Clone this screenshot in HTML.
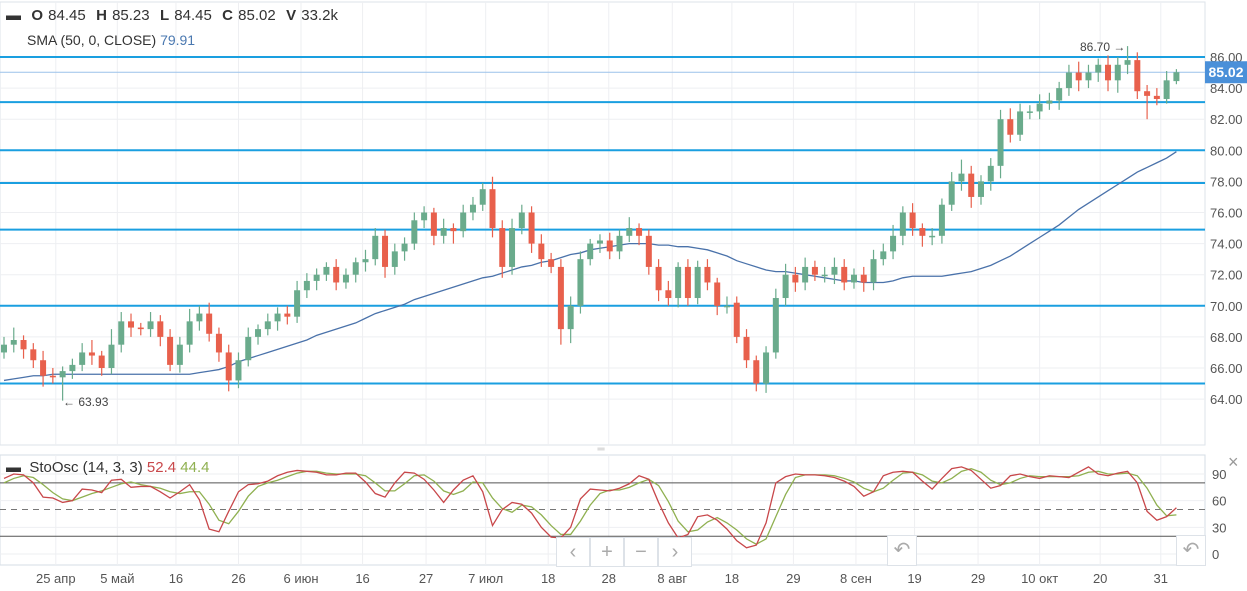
<!DOCTYPE html>
<html><head><meta charset="utf-8">
<style>
body{margin:0;background:#fff;font-family:"Liberation Sans","Noto Sans CJK SC",sans-serif;}
#wrap{position:relative;width:1247px;height:591px;overflow:hidden;background:#fff;}
svg{position:absolute;left:0;top:0;}
.hdr{position:absolute;font-size:15px;color:#333;white-space:nowrap;}
.btn{position:absolute;border:1px solid #dde2e8;background:#fff;color:#aaa;font-size:20px;text-align:center;line-height:28px;}
</style></head>
<body>
<div id="wrap">
<svg id="chart" width="1247" height="591"></svg>
<div class="hdr" style="left:6px;top:7px;word-spacing:1px;"><b>▬</b>&nbsp; <b>O</b> 84.45 &nbsp;<b>H</b> 85.23 &nbsp;<b>L</b> 84.45 &nbsp;<b>C</b> 85.02 &nbsp;<b>V</b> 33.2k</div>
<div class="hdr" style="left:27px;top:32px;font-size:14px;">SMA (50, 0, CLOSE) <span style="color:#4a78b0">79.91</span></div>
<div class="hdr" style="left:6px;top:459px;"><b>▬</b>&nbsp; StoOsc (14, 3, 3) <span style="color:#c8474a">52.4</span> <span style="color:#8fb050">44.4</span></div>
<div class="btn" style="left:556px;top:537px;width:32px;height:28px;">‹</div>
<div class="btn" style="left:590px;top:537px;width:32px;height:28px;">+</div>
<div class="btn" style="left:624px;top:537px;width:32px;height:28px;">−</div>
<div class="btn" style="left:658px;top:537px;width:32px;height:28px;">›</div>
<div class="btn" style="left:887px;top:535px;width:28px;height:29px;">↶</div>
<div class="btn" style="left:1176px;top:535px;width:28px;height:29px;">↶</div>
</div>
<script>
const closes=[67.5,67.8,67.2,66.5,65.5,65.4,65.8,66.2,67.0,66.8,66.0,67.5,69.0,68.6,68.5,69.0,68.0,66.2,67.5,69.0,69.5,68.2,67.0,65.2,66.5,68.0,68.5,69.0,69.5,69.3,71.0,71.6,72.0,72.5,71.5,72.0,72.8,73.0,74.5,72.5,73.5,74.0,75.5,76.0,74.5,75.0,74.8,76.0,76.5,77.5,75.0,72.5,75.0,76.0,74.0,73.0,72.5,68.5,70.0,73.0,74.0,74.2,73.5,74.5,75.0,74.5,72.5,71.0,70.5,72.5,70.5,72.5,71.5,70.0,70.0,68.0,66.5,65.0,67.0,70.5,72.0,71.5,72.5,72.0,72.0,72.5,71.5,72.0,71.5,73.0,73.5,74.5,76.0,75.0,74.5,74.5,76.5,78.0,78.5,77.0,78.0,79.0,82.0,81.0,82.5,82.5,83.0,83.2,84.0,85.0,84.5,85.0,85.5,84.5,85.5,85.8,83.8,83.5,83.3,84.5,85.02];
const opens=[67.0,67.5,67.8,67.2,66.5,65.5,65.4,65.8,66.2,67.0,66.8,66.0,67.5,69.0,68.6,68.5,69.0,68.0,66.2,67.5,69.0,69.5,68.2,67.0,65.2,66.5,68.0,68.5,69.0,69.5,69.3,71.0,71.6,72.0,72.5,71.5,72.0,72.8,73.0,74.5,72.5,73.5,74.0,75.5,76.0,74.5,75.0,74.8,76.0,76.5,77.5,75.0,72.5,75.0,76.0,74.0,73.0,72.5,68.5,70.0,73.0,74.0,74.2,73.5,74.5,75.0,74.5,72.5,71.0,70.5,72.5,70.5,72.5,71.5,70.0,70.2,68.0,66.5,65.0,67.0,70.5,72.0,71.5,72.5,72.0,72.0,72.5,71.5,72.0,71.5,73.0,73.5,74.5,76.0,75.0,74.5,74.5,76.5,78.0,78.5,77.0,78.0,79.0,82.0,81.0,82.5,82.5,83.0,83.2,84.0,85.0,84.5,85.0,85.5,84.5,85.5,85.8,83.8,83.5,83.3,84.45];
const wickHi=[0.5,0.8,0.3,0.4,0.6,0.5,0.3,0.4,0.6,0.8,0.3,1.0,0.6,0.5,0.3,0.6,0.4,0.5,0.5,0.8,0.5,0.7,0.4,0.5,0.5,0.6,0.3,0.5,0.4,0.5,0.6,0.5,0.4,0.3,0.5,0.4,0.3,0.6,0.5,0.4,0.5,0.4,0.5,0.4,0.3,0.6,0.3,0.5,0.5,0.4,0.8,0.5,0.6,0.5,0.4,0.6,0.4,0.5,0.6,0.5,0.3,0.4,0.5,0.4,0.7,0.3,0.4,0.5,0.6,0.3,0.5,0.4,0.5,0.3,0.6,0.4,0.5,0.3,0.4,0.6,0.7,0.5,0.6,0.4,0.5,0.6,0.5,0.4,0.5,0.6,0.5,0.7,0.4,0.6,0.3,0.5,0.4,0.6,0.9,0.5,0.4,0.5,0.6,0.7,0.5,0.4,0.6,0.5,0.4,0.5,0.7,0.5,0.4,0.6,0.5,0.9,0.5,0.4,0.5,0.6,0.2];
const wickLo=[0.4,0.5,0.6,0.5,0.7,0.4,1.5,0.5,0.4,0.6,0.5,0.4,0.5,0.6,0.4,0.5,0.6,0.4,0.5,0.5,0.6,0.5,0.6,0.7,0.5,0.4,0.5,0.4,0.6,0.5,0.4,0.5,0.6,0.4,0.5,0.4,0.5,0.6,0.4,0.7,0.5,0.6,0.4,0.5,0.6,0.5,0.8,0.4,0.5,0.4,0.6,0.7,0.5,0.4,0.6,0.5,0.4,1.0,0.9,0.5,0.4,0.6,0.5,0.5,0.4,0.6,0.5,0.7,0.5,0.6,0.5,0.4,0.5,0.6,0.5,0.4,0.5,0.5,0.6,0.4,0.5,0.6,0.5,0.4,0.5,0.6,0.5,0.4,0.6,0.5,0.4,0.5,0.6,0.5,0.7,0.6,0.5,0.4,0.6,0.7,0.5,0.6,0.8,0.5,0.4,0.5,0.5,0.4,0.6,0.5,0.7,0.5,0.6,0.7,0.8,0.6,0.5,1.5,0.4,0.3,0.2];
const sma=[65.2,65.3,65.4,65.5,65.5,65.6,65.6,65.6,65.6,65.6,65.6,65.6,65.6,65.6,65.6,65.6,65.6,65.6,65.6,65.6,65.7,65.8,65.9,66.1,66.4,66.6,66.8,67.0,67.2,67.4,67.6,67.8,68.1,68.3,68.5,68.7,68.9,69.2,69.5,69.7,69.9,70.1,70.4,70.6,70.8,71.0,71.2,71.4,71.6,71.8,71.9,72.1,72.3,72.5,72.6,72.8,72.9,73.1,73.3,73.4,73.6,73.7,73.8,73.9,74.0,74.0,74.0,73.9,73.9,73.8,73.8,73.7,73.6,73.4,73.2,72.9,72.7,72.5,72.3,72.2,72.2,72.1,72.0,71.9,71.8,71.7,71.6,71.6,71.5,71.5,71.5,71.6,71.8,71.9,71.9,71.9,71.9,72.0,72.1,72.2,72.4,72.6,72.9,73.2,73.6,74.0,74.4,74.8,75.2,75.7,76.2,76.6,77.0,77.4,77.8,78.2,78.6,78.9,79.2,79.5,79.91];
const stochK=[85,90,89,80,64,63,58,60,73,72,69,83,84,75,76,76,70,63,70,78,61,28,25,48,70,78,79,82,88,92,94,93,92,89,89,91,91,81,68,64,80,92,91,84,72,58,72,83,88,70,32,50,58,56,46,30,19,18,30,62,73,72,71,74,79,88,84,58,35,18,22,42,44,38,28,15,7,10,35,80,87,90,89,89,88,86,82,76,65,70,88,92,93,92,82,73,85,96,98,94,84,74,77,88,90,87,85,88,87,86,92,98,90,88,91,93,80,48,38,42,52];
const stochD=[80,85,88,86,78,69,62,60,64,68,71,75,79,81,78,76,74,70,68,70,70,56,38,34,48,65,76,80,83,87,91,93,93,91,90,90,90,88,80,71,71,79,88,89,82,71,67,71,81,80,63,51,47,55,53,44,32,22,22,37,55,68,72,72,75,80,84,77,59,37,25,27,36,41,35,27,17,11,17,42,67,86,89,89,89,88,85,81,74,70,74,83,91,92,89,82,80,85,93,96,92,83,78,80,85,88,87,87,87,87,88,92,93,90,90,91,88,74,55,43,44];
const priceTicks=[64,66,68,70,72,74,76,78,80,82,84,86];
const levels=[86,83.1,80,77.9,74.9,70,65];
const stochTicks=[0,30,60,90];
const dateLabels=["25 апр","5 май","16","26","6 июн","16","27","7 июл","18","28","8 авг","18","29","8 сен","19","29","10 окт","20","31"];
const dateIdx=[5.3,11.6,17.6,24.0,30.4,36.7,43.2,49.3,55.7,61.9,68.4,74.5,80.8,87.2,93.2,99.7,106.0,112.2,118.4];
const lastPrice=85.02;

const svg=document.getElementById('chart');
const NS='http://www.w3.org/2000/svg';
function mk(t,a,p){const e=document.createElementNS(NS,t);for(const k in a)e.setAttribute(k,a[k]);(p||svg).appendChild(e);return e;}
const X=i=>4+i*9.77;
const PY=p=>57+(86-p)*15.55;
const SY=v=>554-v*0.889;

let e;
e=mk('rect',{x:0,y:2,width:1205,height:443,fill:'#fff',stroke:'#dde3ea'});


e=mk('rect',{x:0,y:455,width:1205,height:110,fill:'#fff',stroke:'#d5dde5'});


e=mk('text',{x:601,y:452,'font-size':10,fill:'#bbb','text-anchor':'middle'});e.textContent='═';



dateIdx.forEach((d,k)=>{
  const x=X(d);
  e=mk('line',{x1:x,x2:x,y1:2,y2:445,stroke:'#eeeff2'});
  
  
  e=mk('line',{x1:x,x2:x,y1:455,y2:565,stroke:'#eeeff2'});
  
  
  e=mk('text',{x:x,y:583,'font-size':13,fill:'#555','text-anchor':'middle'});
  e.textContent=dateLabels[k];
  
  
});
priceTicks.forEach(p=>{
  const y=PY(p);
  e=mk('line',{x1:0,x2:1205,y1:y,y2:y,stroke:'#eeeff2'});
  
  
  e=mk('text',{x:1210,y:y+5,'font-size':13,fill:'#555'});
  e.textContent=p.toFixed(2);
  
  
});
stochTicks.forEach(v=>{
  const y=SY(v);
  e=mk('line',{x1:0,x2:1205,y1:y,y2:y,stroke:'#eeeff2'});
  
  
  e=mk('text',{x:1212,y:y+5,'font-size':13,fill:'#555'});
  e.textContent=String(v);
  
  
});
levels.forEach(l=>{
  const y=PY(l);
  e=mk('line',{x1:0,x2:1205,y1:y,y2:y,stroke:'#1a9fe0','stroke-width':2});
  
  
});
e=mk('line',{x1:0,x2:1205,y1:PY(lastPrice),y2:PY(lastPrice),stroke:'#9cc2ea','stroke-width':1});


e=mk('polyline',{points:sma.map((v,i)=>X(i)+','+PY(v)).join(' '),fill:'none',stroke:'#4a72aa','stroke-width':1.3});


closes.forEach((c,i)=>{
  const o=opens[i];
  const up=c>=o;
  const col=up?'#6aab8c':'#e8604c';
  const hi=Math.max(o,c)+(wickHi[i]!==undefined?wickHi[i]:0.4);
  const lo=Math.min(o,c)-(wickLo[i]!==undefined?wickLo[i]:0.4);
  const x=X(i);
  const g=mk('g',{});
  
  
  mk('line',{x1:x,x2:x,y1:PY(hi),y2:PY(lo),stroke:col,'stroke-width':1.2},g);
  const yt=PY(Math.max(o,c)),yb=PY(Math.min(o,c));
  mk('rect',{x:x-3,y:yt,width:6,height:Math.max(1.5,yb-yt),fill:col},g);
});
e=mk('text',{x:1080,y:51,'font-size':12,fill:'#444'});e.textContent='86.70 →';


e=mk('text',{x:63,y:406,'font-size':12,fill:'#444'});e.textContent='← 63.93';


e=mk('rect',{x:1205,y:PY(lastPrice)-11,width:42,height:22,fill:'#4a90d9'});


e=mk('text',{x:1226,y:PY(lastPrice)+5,'font-size':14,'font-weight':'bold',fill:'#fff','text-anchor':'middle'});e.textContent='85.02';


e=mk('line',{x1:0,x2:1205,y1:SY(80),y2:SY(80),stroke:'#555'});


e=mk('line',{x1:0,x2:1205,y1:SY(20),y2:SY(20),stroke:'#555'});


e=mk('line',{x1:0,x2:1205,y1:SY(50),y2:SY(50),stroke:'#777','stroke-dasharray':'6,5'});


e=mk('polyline',{points:stochD.map((v,i)=>X(i)+','+SY(v)).join(' '),fill:'none',stroke:'#8fb050','stroke-width':1.3});


e=mk('polyline',{points:stochK.map((v,i)=>X(i)+','+SY(v)).join(' '),fill:'none',stroke:'#c8474a','stroke-width':1.3});


e=mk('text',{x:1228,y:468,'font-size':18,fill:'#999'});e.textContent='×';


</script>
</body></html>
